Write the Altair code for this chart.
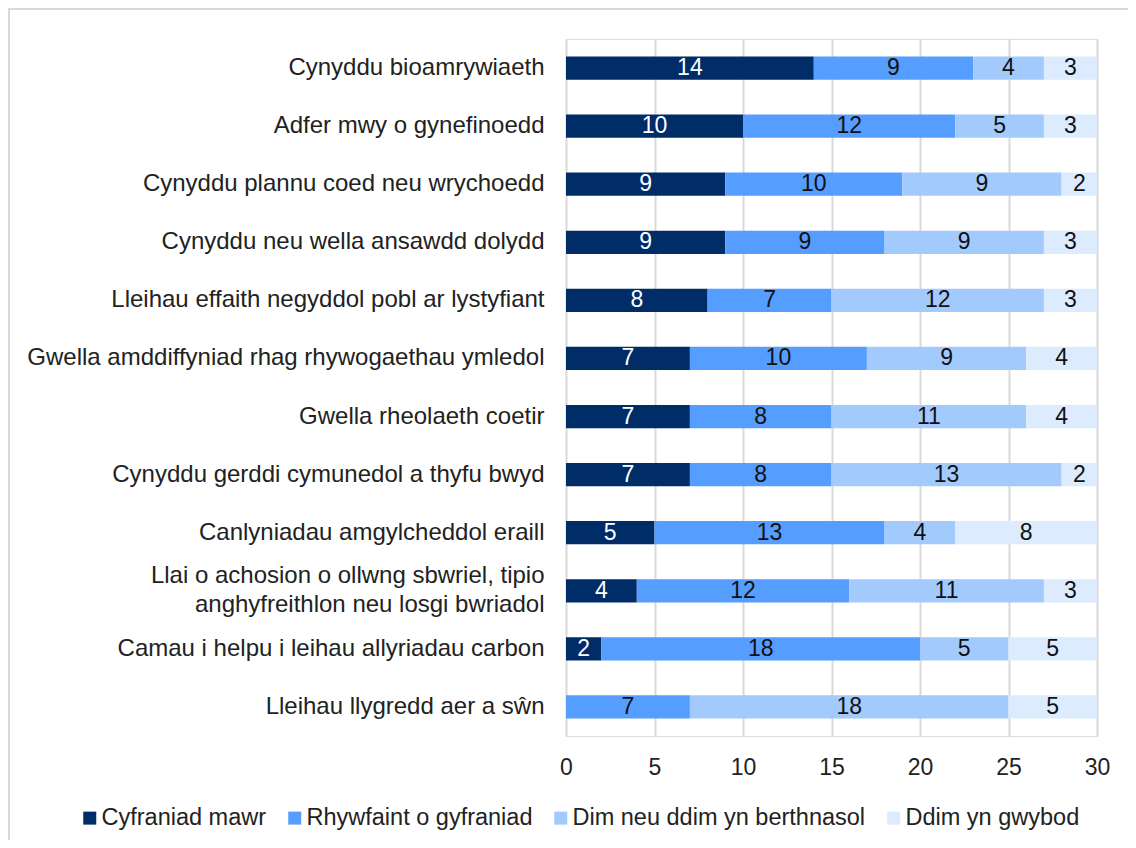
import altair as alt
import pandas as pd

categories = [
    "Cynyddu bioamrywiaeth",
    "Adfer mwy o gynefinoedd",
    "Cynyddu plannu coed neu wrychoedd",
    "Cynyddu neu wella ansawdd dolydd",
    "Lleihau effaith negyddol pobl ar lystyfiant",
    "Gwella amddiffyniad rhag rhywogaethau ymledol",
    "Gwella rheolaeth coetir",
    "Cynyddu gerddi cymunedol a thyfu bwyd",
    "Canlyniadau amgylcheddol eraill",
    "Llai o achosion o ollwng sbwriel, tipio anghyfreithlon neu losgi bwriadol",
    "Camau i helpu i leihau allyriadau carbon",
    "Lleihau llygredd aer a sŵn",
]
series = ["Cyfraniad mawr", "Rhywfaint o gyfraniad", "Dim neu ddim yn berthnasol", "Ddim yn gwybod"]
cyfraniad_mawr = [14, 10, 9, 9, 8, 7, 7, 7, 5, 4, 2, 0]
rhywfaint = [9, 12, 10, 9, 7, 10, 8, 8, 13, 12, 18, 7]
dim_perthnasol = [4, 5, 9, 9, 12, 9, 11, 13, 4, 11, 5, 18]
ddim_gwybod = [3, 3, 2, 3, 3, 4, 4, 2, 8, 3, 5, 5]
colors = ["#002C67", "#559DFE", "#A3CAFD", "#DCEBFE"]

rows = []
for si, vals in enumerate([cyfraniad_mawr, rhywfaint, dim_perthnasol, ddim_gwybod]):
    for c, v in zip(categories, vals):
        rows.append({"category": c, "series": series[si], "order": si, "value": v})
df = pd.DataFrame(rows)

NB = "\u00a0"
long_label = categories[9]
label_expr = (
    f"datum.label == '{long_label}' ? ['Llai o achosion o ollwng sbwriel, tipio', "
    f"'anghyfreithlon neu losgi bwriadol{NB*3}'] : "
    f"(datum.label == 'Cynyddu neu wella ansawdd dolydd' ? 'Cynyddu neu wella ansawdd dolydd{NB}' : datum.label)"
)

FONT = "Liberation Sans"
TXT = "#222222"

y_enc = alt.Y(
    "category:N",
    sort=categories,
    scale=alt.Scale(paddingInner=0.6, paddingOuter=0.3),
    axis=alt.Axis(
        title=None, domain=False, ticks=False, grid=False,
        labelFontSize=24, labelPadding=22, labelLimit=0, labelColor=TXT,
        labelFont=FONT, labelExpr=label_expr, labelLineHeight=29,
        labelOffset={"condition": {"test": f"datum.value == '{long_label}'", "value": -14.5}, "value": 0},
    ),
)

base = (
    alt.Chart(df)
    .transform_filter("datum.value > 0")
    .transform_stack(
        stack="value", groupby=["category"], as_=["x0", "x1"],
        sort=[alt.SortField("order", "ascending")],
    )
    .transform_calculate(mid="(datum.x0 + datum.x1) / 2")
)

bars = base.mark_bar().encode(
    y=y_enc,
    x=alt.X(
        "x0:Q",
        scale=alt.Scale(domain=[0, 30], nice=False),
        axis=alt.Axis(
            title=None, values=[0, 5, 10, 15, 20, 25, 30], domain=False, ticks=False,
            grid=True, gridColor="#d9d9d9", gridWidth=2, labelFlush=False,
            labelFontSize=23, labelPadding=20, labelColor=TXT, labelFont=FONT,
        ),
    ),
    x2="x1:Q",
    color=alt.Color(
        "series:N",
        sort=series,
        scale=alt.Scale(domain=series, range=colors),
        legend=alt.Legend(
            title=None, orient="none", legendX=-488, legendY=767,
            direction="horizontal", columns=4, symbolType="square",
            symbolSize=169, symbolStrokeWidth=0, labelFontSize=23.5,
            labelOffset=0, columnPadding=16, padding=0, labelFont=FONT,
            labelColor=TXT, labelLimit=0,
        ),
    ),
)

text = base.mark_text(fontSize=23, font=FONT).encode(
    y=alt.Y("category:N", sort=categories),
    x=alt.X("mid:Q"),
    text=alt.Text("value:Q"),
    color=alt.condition("datum.order == 0", alt.value("white"), alt.value("#111111")),
)

frame_df = pd.DataFrame({"a": [0]})
frame_left = (
    alt.Chart(frame_df)
    .mark_rule(stroke="#d9d9d9", strokeWidth=2)
    .encode(x=alt.value(-557), y=alt.value(-31), y2=alt.value(1000))
)
frame_top = (
    alt.Chart(frame_df)
    .mark_rule(stroke="#d9d9d9", strokeWidth=2)
    .encode(x=alt.value(-558), x2=alt.value(1300), y=alt.value(-30))
)

chart = (
    alt.layer(frame_left, frame_top, bars, text)
    .properties(
        width=531, height=697,
        autosize="none",
        padding={"left": 558, "top": 31, "right": 31, "bottom": 104},
        background="white",
    )
    .configure_view(strokeWidth=0)
    .configure(font=FONT)
)

chart.save("out.html", embed_options={"renderer": "svg", "actions": False})
